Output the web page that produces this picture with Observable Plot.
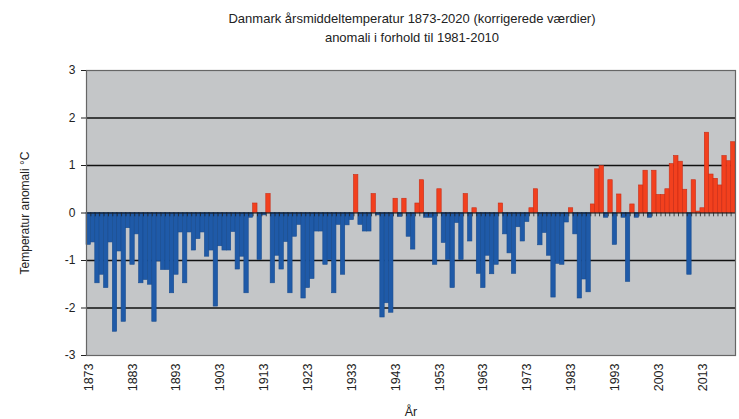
<!DOCTYPE html>
<html><head><meta charset="utf-8">
<script src="https://cdn.jsdelivr.net/npm/d3@7"></script>
<script src="https://cdn.jsdelivr.net/npm/@observablehq/plot@0.6"></script>
<style>
body{margin:0;background:#fff;font-family:"Liberation Sans",Arial,sans-serif;}
#title{height:55px;box-sizing:border-box;padding-top:9px;padding-left:85px;text-align:center;font-size:13px;line-height:19px;color:#222;}
</style></head><body>
<div id="title">Danmark årsmiddeltemperatur 1873-2020 (korrigerede værdier)<br>anomali i forhold til 1981-2010</div>
<div id="chart"></div>
<script>
const startYear = 1873;
const anomalies = [
  -0.67,-0.62,-1.48,-1.30,-1.58,-0.62,-2.50,-0.81,-2.29,-0.32,
  -1.09,-0.45,-1.48,-1.41,-1.51,-2.29,-1.02,-1.20,-1.20,-1.69,
  -1.30,-0.41,-1.48,-0.41,-0.79,-0.55,-0.41,-0.92,-0.79,-1.97,
  -0.70,-0.79,-0.79,-0.40,-1.19,-0.92,-1.69,-0.10,0.20,-0.99,
  -0.05,0.40,-1.48,-0.90,-1.19,-0.61,-1.69,-0.50,-0.25,-1.80,
  -1.58,-1.39,-0.39,-0.39,-1.09,-0.99,-1.69,-0.25,-1.30,-0.26,
  -0.15,0.80,-0.25,-0.39,-0.39,0.40,-0.05,-2.20,-1.90,-2.10,
  0.30,-0.08,0.30,-0.50,-0.77,0.20,0.69,-0.10,-0.10,-1.09,
  0.50,-0.63,-0.99,-1.58,-0.21,-0.99,0.40,-0.60,0.10,-1.28,
  -1.58,-0.90,-1.29,-1.09,0.20,-0.45,-0.85,-1.28,-0.30,-0.60,
  -0.19,0.10,0.50,-0.68,-0.42,-0.90,-1.78,-1.07,-1.09,-0.20,
  0.10,-0.45,-1.80,-1.40,-1.67,0.18,0.92,0.99,-0.10,0.69,
  -0.67,0.39,-0.10,-1.45,0.18,-0.10,0.58,0.89,-0.10,0.89,
  0.38,0.38,0.50,1.03,1.20,1.08,0.49,-1.30,0.69,0.03,
  0.10,1.69,0.81,0.72,0.58,1.20,1.09,1.49
];
const yTicks = [-3,-2,-1,0,1,2,3];
const gridValues = [-2,-1,1,2];
const xTickYears = [1873,1883,1893,1903,1913,1923,1933,1943,1953,1963,1973,1983,1993,2003,2013];

const years = anomalies.map((_, i) => startYear + i);
const data = years.map((year, i) => ({year, value: anomalies[i]}));
const boundaries = years.map(y => y - 0.5).concat([years[years.length - 1] + 0.5]);

const chart = Plot.plot({
  width: 739, height: 364,
  marginTop: 15, marginBottom: 64, marginLeft: 86, marginRight: 4,
  style: {fontFamily: "Liberation Sans, Arial, sans-serif", fontSize: "11px", color: "#222", background: "transparent"},
  x: {domain: [startYear - 0.5, years[years.length - 1] + 0.5]},
  y: {domain: [-3, 3]},
  marks: [
    Plot.frame({fill: "#c4c6c8", stroke: null}),
    Plot.ruleY(gridValues, {stroke: "#111", strokeWidth: 1.5}),
    Plot.rect(data, {
      x1: d => d.year - 0.5, x2: d => d.year + 0.5, y1: 0, y2: "value",
      fill: d => d.value >= 0 ? "#f2401e" : "#1f5aa8",
      stroke: d => d.value >= 0 ? "#c92c16" : "#184c8f", strokeWidth: 0.6
    }),
    Plot.ruleY([0], {stroke: "#111", strokeWidth: 1.2}),
    Plot.ruleX(boundaries, {y1: 0, y2: -0.08, stroke: "#222", strokeWidth: 0.8}),
    Plot.frame({stroke: "#666", strokeWidth: 1.2}),
    Plot.axisY({ticks: yTicks, tickFormat: d => String(d), tickSize: 5, tickPadding: 6, fontSize: 12, label: "Temperatur anomali °C", labelAnchor: "center", labelArrow: "none", labelOffset: 66}),
    Plot.axisX({ticks: xTickYears, tickFormat: d => String(d), tickRotate: -90, tickSize: 0, tickPadding: 8, fontSize: 12.5, label: "År", labelAnchor: "center", labelArrow: "none", labelOffset: 60})
  ]
});
document.getElementById("chart").appendChild(chart);
</script>
</body></html>
